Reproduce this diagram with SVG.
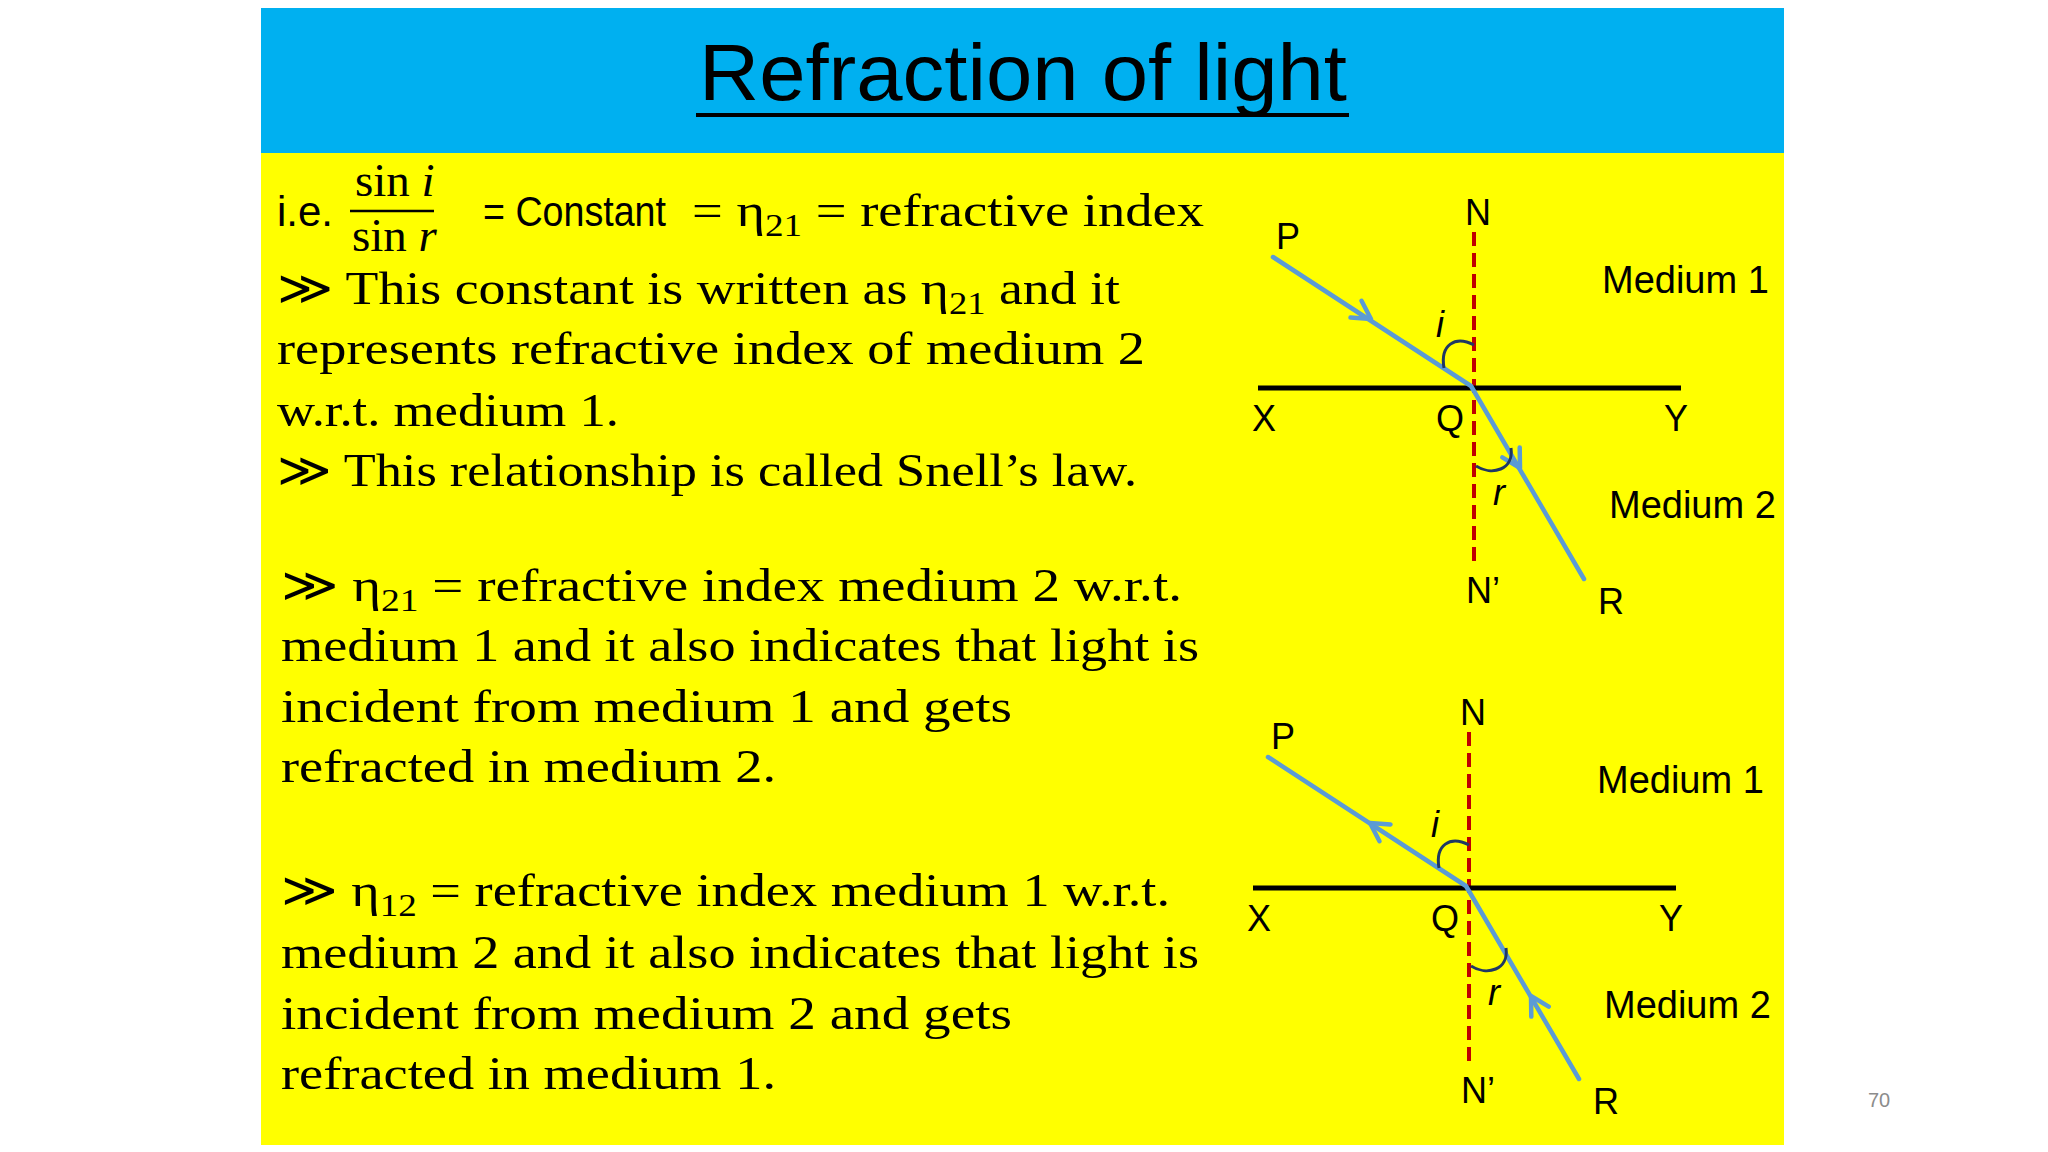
<svg xmlns="http://www.w3.org/2000/svg" width="2048" height="1152" viewBox="0 0 2048 1152">
<style>
.s{font-family:"Liberation Serif",serif;font-size:47px;fill:#000}
.a{font-family:"Liberation Sans",Arial,sans-serif;fill:#000}
.lbl{font-family:"Liberation Sans",Arial,sans-serif;font-size:36px;fill:#000}
.med{font-family:"Liberation Sans",Arial,sans-serif;font-size:38px;fill:#000}
.ray{stroke:#5b9bd5;stroke-width:4.5;fill:none;stroke-linecap:round;stroke-linejoin:round}
.arc{stroke:#1f3864;stroke-width:3;fill:none}
.nl{stroke:#c00000;stroke-width:4;stroke-dasharray:14,7}
</style>
<rect width="2048" height="1152" fill="#fff"/>
<rect x="261" y="8" width="1523" height="145" fill="#00b0f0"/>
<rect x="261" y="153" width="1523" height="992" fill="#ffff00"/>
<g id="title">
<text x="1023" y="100" text-anchor="middle" class="a" font-size="80" textLength="648" lengthAdjust="spacingAndGlyphs">Refraction of light</text>
<line x1="696" y1="115" x2="1349" y2="115" stroke="#000" stroke-width="4"/>
</g>
<g id="text">
<text x="277" y="226" class="a" font-size="42">i.e.</text>
<text x="355" y="196" class="s" font-size="33">sin <tspan font-style="italic">i</tspan></text>
<line x1="350" y1="211" x2="434" y2="211" stroke="#000" stroke-width="2.5"/>
<text x="352" y="251" class="s" font-size="33">sin <tspan font-style="italic">r</tspan></text>
<text x="483" y="226" class="a" font-size="42" textLength="183" lengthAdjust="spacingAndGlyphs">= Constant</text>
<text x="692" y="226" class="s" textLength="512" lengthAdjust="spacingAndGlyphs">= η<tspan font-size="32" dy="10">21</tspan><tspan dy="-10">  = refractive index</tspan></text>
<text x="277" y="304" class="s" textLength="843" lengthAdjust="spacingAndGlyphs">≫ This constant is written as η<tspan font-size="32" dy="10">21</tspan><tspan dy="-10"> and it</tspan></text>
<text x="277" y="364" class="s" textLength="868" lengthAdjust="spacingAndGlyphs">represents refractive index of medium 2</text>
<text x="277" y="426" class="s" textLength="342" lengthAdjust="spacingAndGlyphs">w.r.t. medium 1.</text>
<text x="277" y="486" class="s" textLength="860" lengthAdjust="spacingAndGlyphs">≫ This relationship is called Snell’s law.</text>
<text x="281" y="601" class="s" textLength="901" lengthAdjust="spacingAndGlyphs">≫   η<tspan font-size="32" dy="10">21</tspan><tspan dy="-10">  = refractive index medium 2 w.r.t.</tspan></text>
<text x="281" y="661" class="s" textLength="918" lengthAdjust="spacingAndGlyphs">medium 1 and it also indicates that light is</text>
<text x="281" y="722" class="s" textLength="731" lengthAdjust="spacingAndGlyphs">incident from medium 1 and  gets</text>
<text x="281" y="782" class="s" textLength="495" lengthAdjust="spacingAndGlyphs">refracted in medium 2.</text>
<text x="281" y="906" class="s" textLength="889" lengthAdjust="spacingAndGlyphs">≫  η<tspan font-size="32" dy="10">12</tspan><tspan dy="-10">  = refractive index medium 1 w.r.t.</tspan></text>
<text x="281" y="968" class="s" textLength="918" lengthAdjust="spacingAndGlyphs">medium 2 and it also indicates that light is</text>
<text x="281" y="1029" class="s" textLength="731" lengthAdjust="spacingAndGlyphs">incident from medium 2 and  gets</text>
<text x="281" y="1089" class="s" textLength="495" lengthAdjust="spacingAndGlyphs">refracted in medium 1.</text>
</g>
<g id="diagram1">
<line x1="1474" y1="232" x2="1474" y2="562" class="nl"/>
<line x1="1258" y1="388" x2="1681" y2="388" stroke="#000" stroke-width="5"/>
<path class="ray" d="M1273,257 L1471,386 L1584,579"/>
<path class="ray" d="M1350.5,317.6 L1371,319 L1361.5,300.8"/>
<path class="ray" d="M1502.3,457.4 L1520,468 L1519.7,447.4"/>
<path class="arc" d="M1444,368 C1440,345 1455,335 1474,345"/>
<path class="arc" d="M1476,466 C1492,476 1514,470 1511,448"/>
<text x="1436" y="337" class="lbl" font-style="italic">i</text>
<text x="1493" y="505" class="lbl" font-style="italic">r</text>
<text x="1465" y="225" class="lbl">N</text>
<text x="1276" y="249" class="lbl">P</text>
<text x="1252" y="431" class="lbl">X</text>
<text x="1436" y="431" class="lbl">Q</text>
<text x="1664" y="431" class="lbl">Y</text>
<text x="1466" y="603" class="lbl">N’</text>
<text x="1598" y="614" class="lbl">R</text>
<text x="1602" y="293" class="med">Medium 1</text>
<text x="1609" y="518" class="med">Medium 2</text>
</g>
<g id="diagram2" transform="translate(-5,500)">
<line x1="1474" y1="232" x2="1474" y2="562" class="nl"/>
<line x1="1258" y1="388" x2="1681" y2="388" stroke="#000" stroke-width="5"/>
<path class="ray" d="M1273,257 L1471,386 L1584,579"/>
<path class="ray" d="M1384.5,341.2 L1375,323 L1395.5,324.4"/>
<path class="ray" d="M1536.3,516.6 L1536,496 L1553.7,506.6"/>
<path class="arc" d="M1444,368 C1440,345 1455,335 1474,345"/>
<path class="arc" d="M1476,466 C1492,476 1514,470 1511,448"/>
<text x="1436" y="337" class="lbl" font-style="italic">i</text>
<text x="1493" y="505" class="lbl" font-style="italic">r</text>
<text x="1465" y="225" class="lbl">N</text>
<text x="1276" y="249" class="lbl">P</text>
<text x="1252" y="431" class="lbl">X</text>
<text x="1436" y="431" class="lbl">Q</text>
<text x="1664" y="431" class="lbl">Y</text>
<text x="1466" y="603" class="lbl">N’</text>
<text x="1598" y="614" class="lbl">R</text>
<text x="1602" y="293" class="med">Medium 1</text>
<text x="1609" y="518" class="med">Medium 2</text>
</g>
<text x="1868" y="1107" class="a" font-size="20" style="fill:#8c8c8c">70</text>
</svg>
